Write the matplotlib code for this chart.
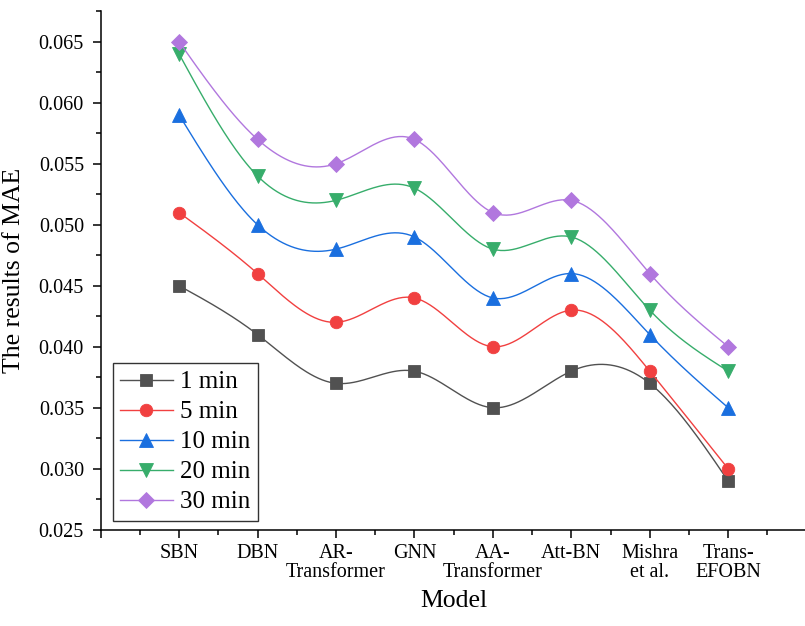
#!/usr/bin/env python3
import numpy as np
import matplotlib
matplotlib.use("Agg")
import matplotlib.pyplot as plt
from matplotlib.ticker import MultipleLocator

# --- data ---
models = ["SBN", "DBN", "AR-\nTransformer", "GNN", "AA-\nTransformer",
          "Att-BN", "Mishra\net al.", "Trans-\nEFOBN"]
mae_1min = [0.045, 0.041, 0.037, 0.038, 0.035, 0.038, 0.037, 0.029]
mae_5min = [0.051, 0.046, 0.042, 0.044, 0.040, 0.043, 0.038, 0.030]
mae_10min = [0.059, 0.050, 0.048, 0.049, 0.044, 0.046, 0.041, 0.035]
mae_20min = [0.064, 0.054, 0.052, 0.053, 0.048, 0.049, 0.043, 0.038]
mae_30min = [0.065, 0.057, 0.055, 0.057, 0.051, 0.052, 0.046, 0.040]

series = [
    ("1 min", mae_1min, "#515151", "s", 8),
    ("5 min", mae_5min, "#F14040", "o", 9),
    ("10 min", mae_10min, "#1A6FDF", "^", 10),
    ("20 min", mae_20min, "#37AD6B", "v", 10),
    ("30 min", mae_30min, "#B177DE", "D", 8),
]


def natural_spline(x, y, per_seg=40):
    """Natural cubic spline through (x, y); used only for the connecting line."""
    x = np.asarray(x, float)
    y = np.asarray(y, float)
    n = len(x)
    h = np.diff(x)
    A = np.zeros((n, n))
    b = np.zeros(n)
    A[0, 0] = A[-1, -1] = 1.0
    for i in range(1, n - 1):
        A[i, i - 1] = h[i - 1]
        A[i, i] = 2 * (h[i - 1] + h[i])
        A[i, i + 1] = h[i]
        b[i] = 3 * ((y[i + 1] - y[i]) / h[i] - (y[i] - y[i - 1]) / h[i - 1])
    c = np.linalg.solve(A, b)
    xs, ys = [], []
    for i in range(n - 1):
        t = np.linspace(0, h[i], per_seg, endpoint=False)
        bi = (y[i + 1] - y[i]) / h[i] - h[i] * (2 * c[i] + c[i + 1]) / 3
        di = (c[i + 1] - c[i]) / (3 * h[i])
        xs.append(x[i] + t)
        ys.append(y[i] + bi * t + c[i] * t ** 2 + di * t ** 3)
    xs.append([x[-1]])
    ys.append([y[-1]])
    return np.concatenate(xs), np.concatenate(ys)


plt.rcParams["font.family"] = ["Liberation Serif", "DejaVu Serif"]

fig = plt.figure(figsize=(8.05, 6.26), dpi=100)
ax = fig.add_axes([0.125, 0.1538, 0.877, 0.829])

xpos = np.arange(1, len(models) + 1)
per_seg = 40
for label, vals, color, marker, ms in series:
    sx, sy = natural_spline(xpos, vals, per_seg)
    ax.plot(sx, sy, color=color, lw=1.0, marker=marker, ms=ms,
            markevery=list(range(0, len(sx), per_seg)),
            markerfacecolor=color, markeredgecolor=color, markeredgewidth=0.6,
            label=label)

ax.set_xlim(0, 9)
ax.set_ylim(0.025, 0.06754)

# tick at 0 is unlabeled, categories at 1..8
ax.set_xticks(list(range(0, 9)))
ax.set_xticklabels([""] + models, linespacing=1.0)
ax.xaxis.set_minor_locator(MultipleLocator(0.5))
ax.yaxis.set_major_locator(MultipleLocator(0.005))
ax.yaxis.set_minor_locator(MultipleLocator(0.0025))
ax.yaxis.set_major_formatter(plt.FormatStrFormatter("%.3f"))

for s in ["top", "right"]:
    ax.spines[s].set_visible(False)
for s in ["left", "bottom"]:
    ax.spines[s].set_linewidth(1.1)

ax.tick_params(axis="both", which="major", direction="out", length=6,
               width=1.1, labelsize=14.5, color="black")
ax.tick_params(axis="both", which="minor", direction="out", length=3.5,
               width=1.1)
ax.tick_params(axis="y", which="major", pad=6)
ax.tick_params(axis="x", which="major", pad=4)

ax.set_xlabel("Model", fontsize=18.5, labelpad=6)
ax.set_ylabel("The results of MAE", fontsize=18.5, labelpad=10)

leg = ax.legend(loc="lower left", bbox_to_anchor=(0.017, 0.017),
                borderaxespad=0, fontsize=18, frameon=True, fancybox=False,
                edgecolor="black", handlelength=2.1, handletextpad=0.3,
                labelspacing=0.3, borderpad=0.3, numpoints=1)
leg.get_frame().set_linewidth(1.0)

fig.savefig("out.png", dpi=100)
